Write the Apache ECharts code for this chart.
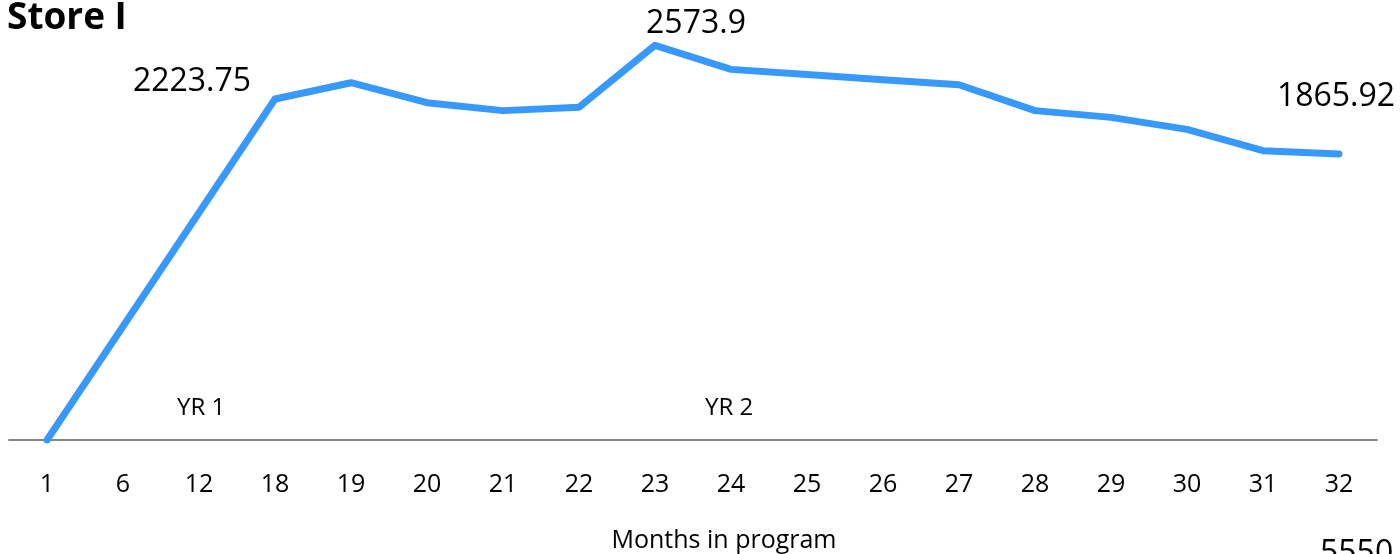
<!DOCTYPE html>
<html>
<head>
<meta charset="utf-8">
<script src="https://cdn.jsdelivr.net/npm/echarts@6/dist/echarts.min.js"></script>
<style>
  html, body { margin: 0; padding: 0; background: #fff; }
  #chart { width: 1400px; height: 554px; }
</style>
</head>
<body>
<div id="chart"></div>
<script>
// Months in the program (category axis)
const months = ['1', '6', '12', '18', '19', '20', '21', '22', '23', '24', '25', '26', '27', '28', '29', '30', '31', '32'];
// Monthly values; months 6 and 12 have no reading and are bridged by the line
const sales = [0, null, null, 2223.75, 2330, 2200, 2148, 2170, 2573.9, 2417, 2384, 2350, 2317, 2148, 2104, 2026, 1887, 1865.92];
// Months whose value is written beside the line, with the label nudge [dx, dy]
const labelled = { '18': [-83, -17], '23': [41, -21], '32': [-3, -57] };

const FONT = 'Open Sans';

const seriesData = sales.map((v, i) => {
  const off = labelled[months[i]];
  if (!off || v === null) return v;
  return {
    value: v,
    label: {
      show: true,
      position: 'inside',
      offset: off,
      formatter: String(v),
      fontFamily: FONT,
      fontSize: 32,
      color: '#000'
    }
  };
});

const chart = echarts.init(document.getElementById('chart'), null, { renderer: 'canvas' });
chart.setOption({
  animation: false,
  backgroundColor: '#fff',
  grid: { left: 9, right: 23, top: 10.65, bottom: 114, containLabel: false, outerBoundsMode: 'none' },
  xAxis: {
    type: 'category',
    data: months,
    boundaryGap: true,
    axisLine: { show: true, lineStyle: { color: '#868686', width: 2 } },
    axisTick: { show: false },
    axisLabel: { fontFamily: FONT, fontSize: 25, color: '#000', margin: 32, interval: 0 },
    name: 'Months in program',
    nameLocation: 'middle',
    nameGap: 88,
    nameTextStyle: { fontFamily: FONT, fontSize: 25, color: '#000', padding: [0, 0, 0, 62] }
  },
  yAxis: {
    type: 'value',
    min: 0,
    max: 2800,
    show: false
  },
  series: [{
    type: 'line',
    data: seriesData,
    connectNulls: true,
    symbol: 'circle',
    symbolSize: 1,
    showSymbol: true,
    lineStyle: { color: '#3899FD', width: 7, cap: 'round', join: 'round' },
    itemStyle: { color: '#3899FD' },
    label: { show: false }
  }],
  graphic: [
    { type: 'text', left: 7, top: 0,
      style: { text: 'Store I', fontFamily: FONT, fontWeight: 'bold', fontSize: 37, fill: '#000' } },
    { type: 'text', left: 177, top: 396,
      style: { text: 'YR 1', fontFamily: FONT, fontSize: 24, fill: '#000' } },
    { type: 'text', left: 705, top: 396,
      style: { text: 'YR 2', fontFamily: FONT, fontSize: 24, fill: '#000' } },
    { type: 'text', left: 1320, top: 538,
      style: { text: '5550', fontFamily: FONT, fontSize: 32, fill: '#000' } }
  ]
});
</script>
</body>
</html>
